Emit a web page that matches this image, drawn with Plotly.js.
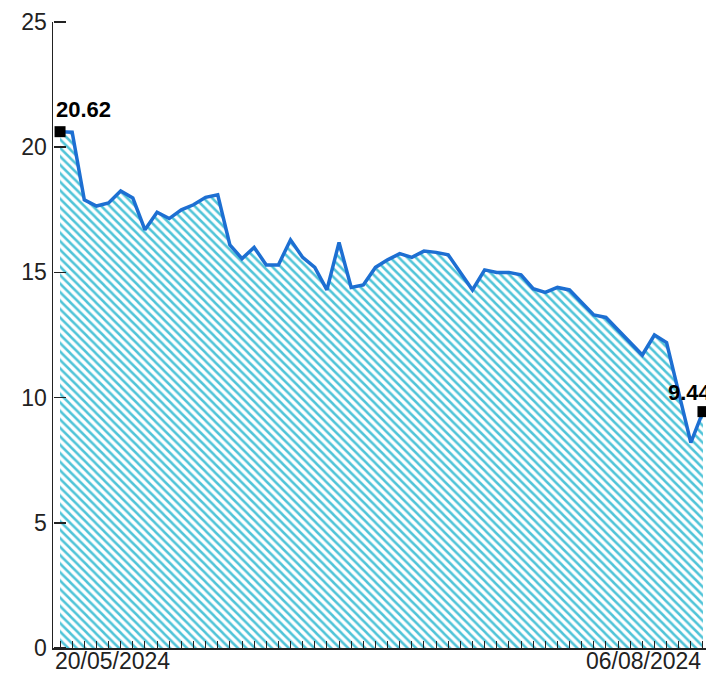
<!DOCTYPE html>
<html>
<head>
<meta charset="utf-8">
<script src="https://cdn.plot.ly/plotly-3.0.1.min.js"></script>
<style>html,body{margin:0;padding:0;background:#fff;}#chart{width:706px;height:675px;}</style>
</head>
<body>
<div id="chart"></div>
<script>
const dates = [
  "2024-05-20","2024-05-21","2024-05-22","2024-05-23","2024-05-24",
  "2024-05-28","2024-05-29","2024-05-30","2024-05-31",
  "2024-06-03","2024-06-04","2024-06-05","2024-06-06","2024-06-07",
  "2024-06-10","2024-06-11","2024-06-12","2024-06-13","2024-06-14",
  "2024-06-17","2024-06-18","2024-06-20","2024-06-21",
  "2024-06-24","2024-06-25","2024-06-26","2024-06-27","2024-06-28",
  "2024-07-01","2024-07-02","2024-07-03","2024-07-05",
  "2024-07-08","2024-07-09","2024-07-10","2024-07-11","2024-07-12",
  "2024-07-15","2024-07-16","2024-07-17","2024-07-18","2024-07-19",
  "2024-07-22","2024-07-23","2024-07-24","2024-07-25","2024-07-26",
  "2024-07-29","2024-07-30","2024-07-31",
  "2024-08-01","2024-08-02","2024-08-05","2024-08-06"
];
const values = [
  20.62, 20.6, 17.9, 17.65, 17.77, 18.25, 17.97, 16.7, 17.4, 17.15,
  17.5, 17.7, 18.0, 18.1, 16.1, 15.55, 16.0, 15.3, 15.3, 16.3,
  15.6, 15.2, 14.3, 16.2, 14.4, 14.5, 15.2, 15.5, 15.75, 15.6,
  15.85, 15.8, 15.7, 15.0, 14.3, 15.1, 15.0, 15.0, 14.9, 14.35,
  14.2, 14.4, 14.3, 13.8, 13.3, 13.2, 12.7, 12.2, 11.7, 12.5,
  12.2, 10.2, 8.2, 9.44
];
const yTicks = [0, 5, 10, 15, 20, 25];
const firstLabel = "20/05/2024";
const lastLabel = "06/08/2024";

const n = dates.length;
const endIdx = [0, n - 1];

const traces = [
  {
    x: dates, y: values, type: 'scatter', mode: 'lines',
    fill: 'tozeroy',
    fillcolor: 'rgba(0,0,0,0)',
    fillpattern: {shape: '\\', fgcolor: '#50c4d8', bgcolor: '#ffffff', size: 6, solidity: 0.42},
    line: {color: '#1d6fd2', width: 3.5},
    hoverinfo: 'skip'
  },
  {
    x: endIdx.map(i => dates[i]), y: endIdx.map(i => values[i]),
    type: 'scatter', mode: 'markers',
    marker: {symbol: 'square', color: '#000', size: 11},
    cliponaxis: false,
    hoverinfo: 'skip'
  },
  {
    // carrier trace so the tick-mark axis (y2) is drawn
    x: dates, y: values, yaxis: 'y2', type: 'scatter', mode: 'lines',
    line: {width: 0}, opacity: 0, hoverinfo: 'skip'
  }
];

const txtFont = {family: 'Liberation Sans, Arial, sans-serif', size: 23, color: '#222'};
const layout = {
  width: 706, height: 675,
  margin: {l: 53, r: 0, t: 22, b: 27},
  paper_bgcolor: '#fff', plot_bgcolor: '#fff',
  showlegend: false,
  xaxis: {
    type: 'category',
    range: [-0.58, n - 1 + 0.25],
    tickmode: 'array', tickvals: dates,
    showticklabels: false,
    ticks: 'inside', ticklen: 7, tickwidth: 1, tickcolor: '#222',
    showline: true, linecolor: '#222', linewidth: 1.5,
    showgrid: false, zeroline: false, fixedrange: true
  },
  yaxis: {
    range: [0, 25],
    tickmode: 'array', tickvals: yTicks,
    ticks: '',
    showline: true, linecolor: '#222', linewidth: 1.5,
    showgrid: false, zeroline: false,
    tickfont: txtFont, fixedrange: true
  },
  yaxis2: {
    range: [0, 25],
    overlaying: 'y', side: 'right', anchor: 'free', position: 0,
    tickmode: 'array', tickvals: yTicks,
    ticks: 'outside', ticklen: 12, tickwidth: 1.5, tickcolor: '#222',
    showticklabels: false, showline: false,
    showgrid: false, zeroline: false, fixedrange: true
  },
  annotations: [
    {xref: 'paper', yref: 'paper', x: 0, y: 0, xanchor: 'left', yanchor: 'top',
     text: firstLabel, showarrow: false, font: txtFont, yshift: 2},
    {xref: 'x', yref: 'paper', x: dates[n - 1], y: 0, xanchor: 'right', yanchor: 'top',
     text: lastLabel, showarrow: false, font: txtFont, yshift: 2},
    {xref: 'x', yref: 'y', x: dates[0], y: values[0], xanchor: 'left', yanchor: 'bottom',
     text: '<b>' + values[0].toFixed(2) + '</b>', showarrow: false, xshift: -6, yshift: 8,
     font: {family: 'Liberation Sans, Arial, sans-serif', size: 22, color: '#000'}},
    {xref: 'x', yref: 'y', x: dates[n - 1], y: values[n - 1], xanchor: 'left', yanchor: 'bottom',
     text: '<b>' + values[n - 1].toFixed(2) + '</b>', showarrow: false, xshift: -37, yshift: 5,
     font: {family: 'Liberation Sans, Arial, sans-serif', size: 22, color: '#000'}}
  ]
};

Plotly.newPlot('chart', traces, layout, {displayModeBar: false, staticPlot: true});
</script>
</body>
</html>
